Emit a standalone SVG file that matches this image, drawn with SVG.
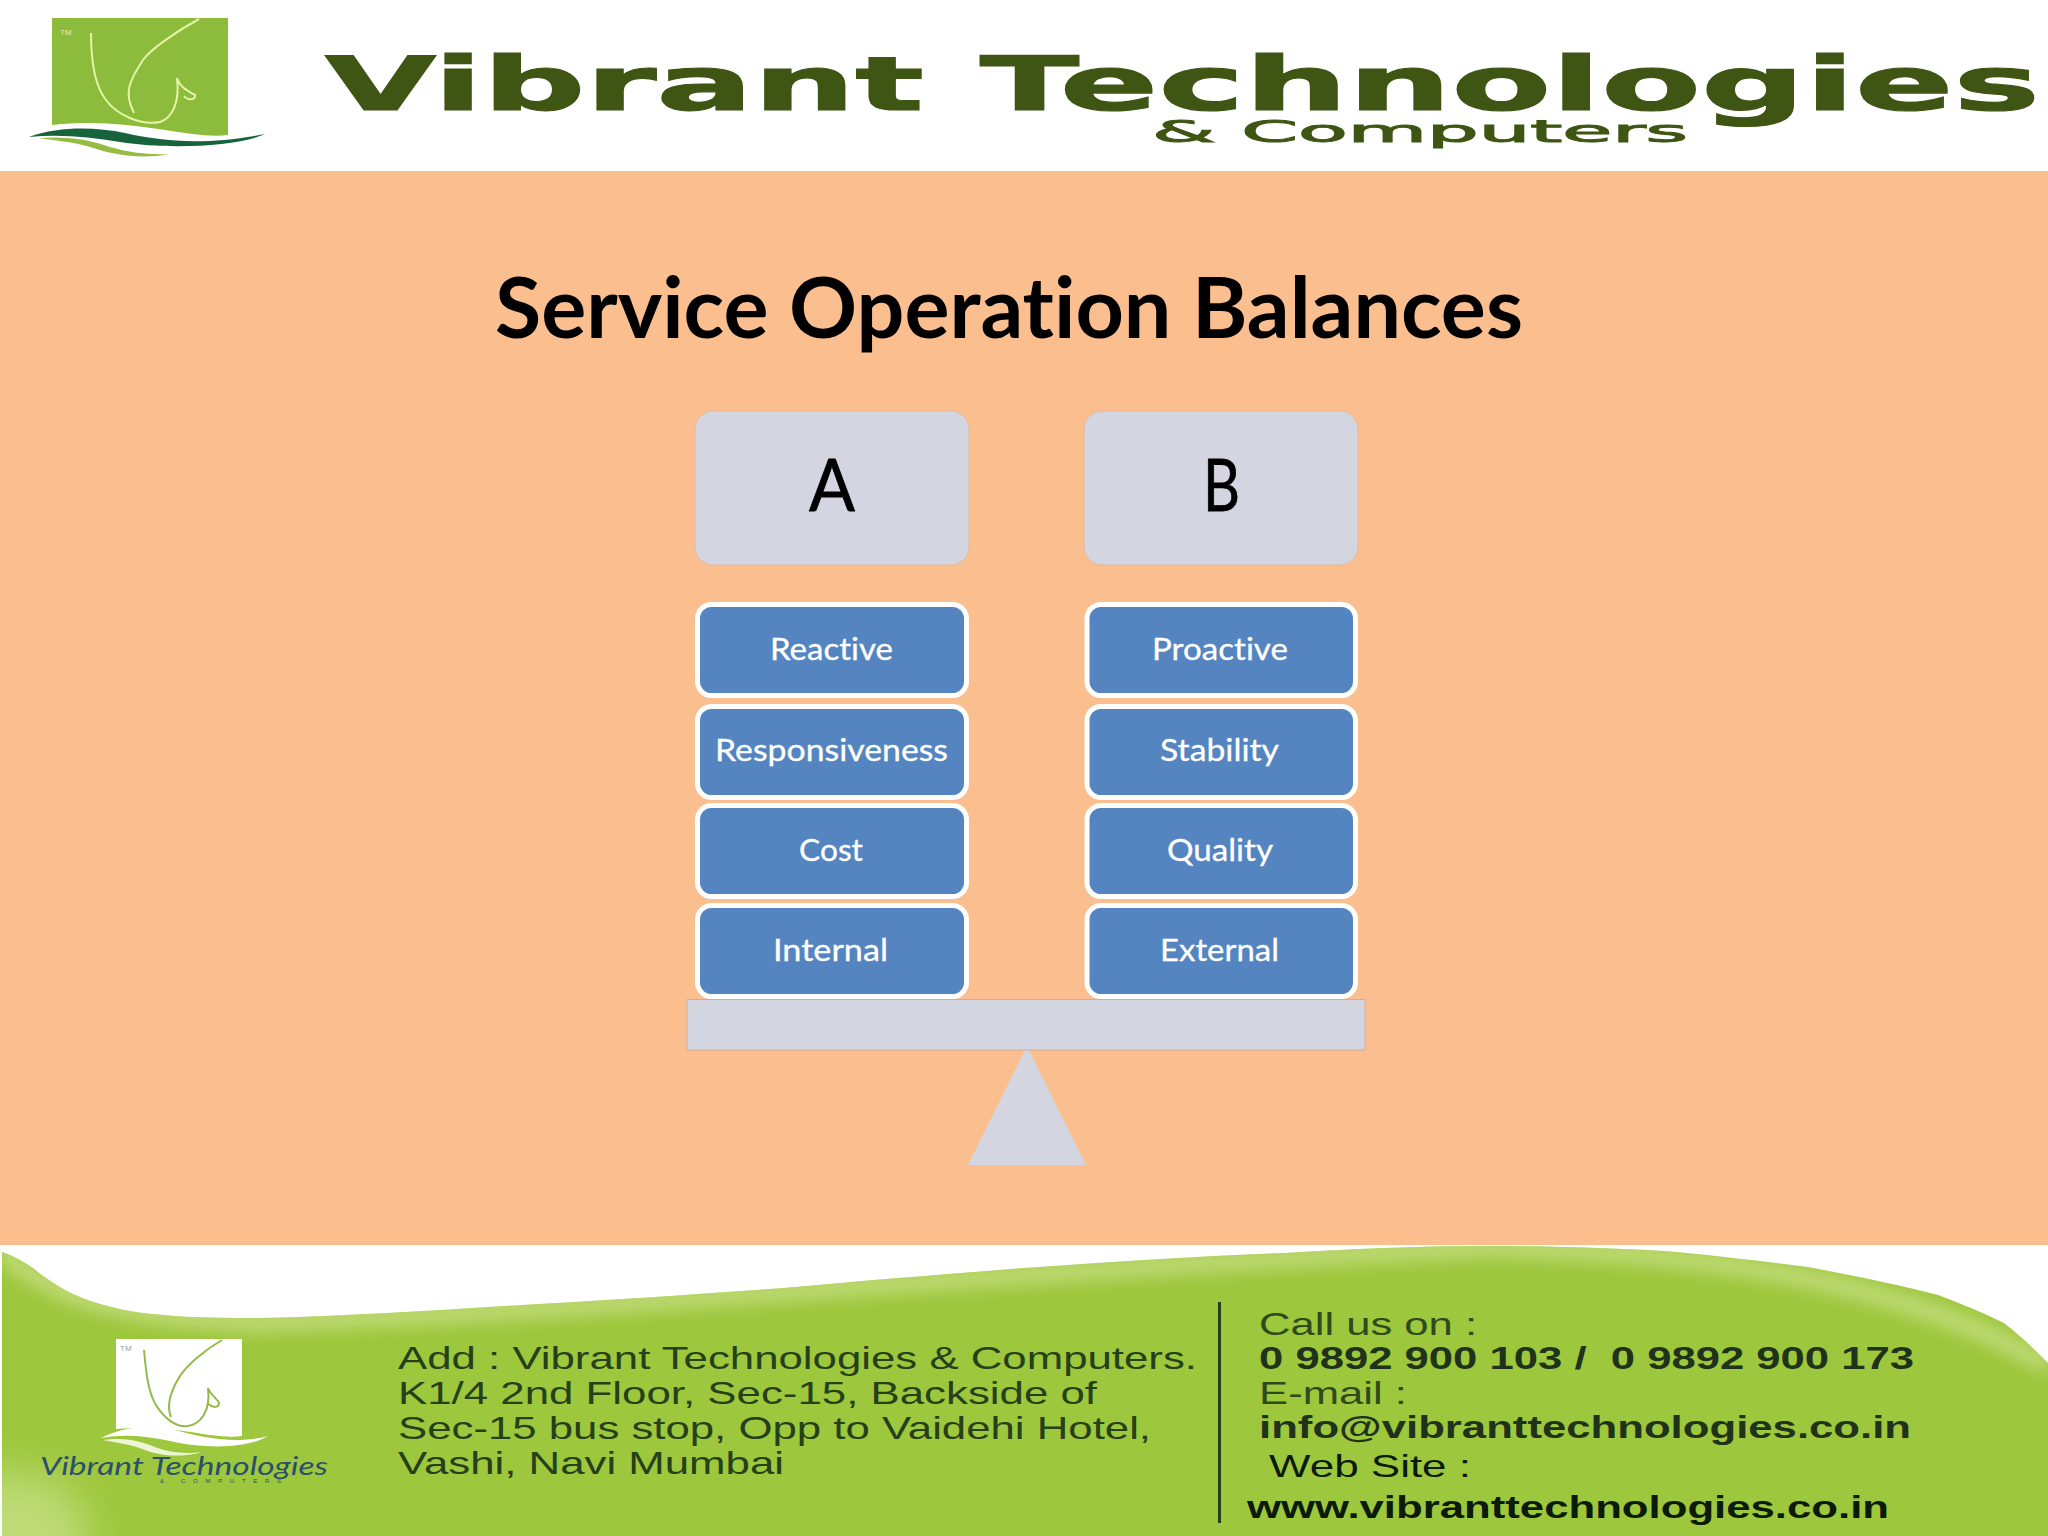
<svg xmlns="http://www.w3.org/2000/svg" width="2048" height="1536" viewBox="0 0 2048 1536">
<style>
text{font-variant-ligatures:none}
.hd{font-family:"DejaVu Sans",sans-serif;font-weight:700;fill:#3f5513;stroke:#3f5513;stroke-width:1.2}
.hs{font-family:"DejaVu Sans",sans-serif;font-weight:400;fill:#3f5513;stroke:#3f5513;stroke-width:1}
.ttl{font-family:Lato,sans-serif;font-weight:700;font-size:85px;fill:#000}
.big{font-family:Lato,sans-serif;font-size:72px;fill:#000;stroke:#000;stroke-width:.8}
.lbl{font-family:Lato,sans-serif;font-size:31px;fill:#fff;stroke:#fff;stroke-width:.3}
.head{fill:#d3d6e1;stroke:#e5b79a;stroke-width:1}
.blue{fill:#5585c0;stroke:#fff;stroke-width:5}
.addr{font-family:"Liberation Sans",sans-serif;font-size:32px;fill:#26401a}
.call{font-family:"Liberation Sans",sans-serif;font-size:32px;fill:#2f4a1c}
.bold{font-family:"Liberation Sans",sans-serif;font-weight:700;font-size:32px;fill:#20331a}
.blk{font-family:"Liberation Sans",sans-serif;font-size:32px;fill:#0c1a08}
.wbold{font-family:"Liberation Sans",sans-serif;font-weight:700;font-size:32px;fill:#0c1a08}
</style>
<defs>
<filter id="soft" x="-10%" y="-50%" width="120%" height="200%"><feGaussianBlur stdDeviation="9"/></filter>
<filter id="soft2" x="-50%" y="-50%" width="200%" height="200%"><feGaussianBlur stdDeviation="22"/></filter>
<clipPath id="fc"><path d="M2 1252 C14 1256 24 1262 33 1268 C50 1282 66 1292 85 1299 C110 1308 135 1313 163 1315 C195 1318 230 1318 261 1318 C350 1316 440 1310 522 1305 C610 1300 700 1294 784 1288 C870 1280 950 1274 1024 1268 C1110 1262 1200 1256 1285 1253 C1350 1249 1420 1246 1481 1246 C1550 1246 1620 1248 1677 1252 C1725 1257 1770 1262 1808 1267 C1855 1276 1900 1285 1938 1295 C1965 1305 1988 1315 2004 1323 C2020 1335 2035 1350 2048 1363 V1536 H2 Z"/></clipPath>
</defs>
<rect id="page" width="2048" height="1536" fill="#fff"/>
<rect id="panel" y="171" width="2048" height="1074" fill="#fbbe8f"/>

<g id="header">
<path d="M52 18 H228 V135 C190 140 130 116 52 125 Z" fill="#8dbb3c"/>
<text x="60" y="35" font-family="Liberation Sans,sans-serif" font-size="8" fill="#e4f0b8">TM</text>
<path d="M91 33 C91 60 94 85 106 100 C116 114 140 126 160 122 C172 118 180 103 177 78 C180 88 190 92 195 95 C196 100 188 101 184 96" fill="none" stroke="#e6f4a6" stroke-width="2"/>
<path d="M199 19 C175 32 150 50 143 60 C130 80 123 92 134 113" fill="none" stroke="#e6f4a6" stroke-width="2"/>
<path d="M29 137 C60 126 95 127 125 133 C160 141 205 146 265 134 C240 146 170 150 120 142 C90 137 60 134 29 137 Z" fill="#17633b"/>
<path d="M39 138 C70 136 90 140 110 147 C130 153 150 155 170 154 C140 160 110 154 90 147 C70 141 55 141 39 138 Z" fill="#96bc45"/>
<text class="hd" x="325" y="110" font-size="75" textLength="599" lengthAdjust="spacingAndGlyphs">Vibrant</text>
<text class="hd" x="980" y="110" font-size="75" textLength="1060" lengthAdjust="spacingAndGlyphs">Technologies</text>
<text class="hs" x="1152" y="142" font-size="30" textLength="536" lengthAdjust="spacingAndGlyphs">&amp; Computers</text>
</g>

<text id="title" class="ttl" x="495" y="338" textLength="1028" lengthAdjust="spacingAndGlyphs">Service Operation Balances</text>

<g id="node-a"><rect class="head" x="695" y="411" width="274" height="154" rx="18"/><text class="big" x="809" y="511" textLength="46" lengthAdjust="spacingAndGlyphs">A</text></g>
<g id="node-b"><rect class="head" x="1084" y="411" width="274" height="154" rx="18"/><text class="big" x="1203" y="511" textLength="37" lengthAdjust="spacingAndGlyphs">B</text></g>

<g id="node-reactive"><rect class="blue" x="697.500" y="604.500" width="269" height="91" rx="14"/><text class="lbl" x="770" y="660" textLength="123" lengthAdjust="spacingAndGlyphs">Reactive</text></g>
<g id="node-responsiveness"><rect class="blue" x="697.500" y="706.500" width="269" height="91" rx="14"/><text class="lbl" x="715" y="761" textLength="233" lengthAdjust="spacingAndGlyphs">Responsiveness</text></g>
<g id="node-cost"><rect class="blue" x="697.500" y="805.500" width="269" height="91" rx="14"/><text class="lbl" x="799" y="861" textLength="64" lengthAdjust="spacingAndGlyphs">Cost</text></g>
<g id="node-internal"><rect class="blue" x="697.500" y="905.500" width="269" height="91" rx="14"/><text class="lbl" x="773" y="961" textLength="115" lengthAdjust="spacingAndGlyphs">Internal</text></g>

<g id="node-proactive"><rect class="blue" x="1087" y="604.500" width="268.500" height="91" rx="14"/><text class="lbl" x="1152" y="660" textLength="136" lengthAdjust="spacingAndGlyphs">Proactive</text></g>
<g id="node-stability"><rect class="blue" x="1087" y="706.500" width="268.500" height="91" rx="14"/><text class="lbl" x="1160" y="761" textLength="119" lengthAdjust="spacingAndGlyphs">Stability</text></g>
<g id="node-quality"><rect class="blue" x="1087" y="805.500" width="268.500" height="91" rx="14"/><text class="lbl" x="1167" y="861" textLength="106" lengthAdjust="spacingAndGlyphs">Quality</text></g>
<g id="node-external"><rect class="blue" x="1087" y="905.500" width="268.500" height="91" rx="14"/><text class="lbl" x="1160" y="961" textLength="119" lengthAdjust="spacingAndGlyphs">External</text></g>

<g id="connectors"></g>

<g id="scale">
<path d="M1027 1046 L1086 1165 H968 Z" fill="#d3d6e1"/>
<rect x="687" y="999.500" width="678" height="50.500" fill="#d3d6e1" stroke="#d0ae9c" stroke-width="1"/>
</g>

<g id="footer">
<g clip-path="url(#fc)">
<rect x="0" y="1240" width="2048" height="296" fill="#9dc73c"/>
<path d="M0 1250 C40 1285 90 1318 261 1322 C600 1312 1000 1270 1481 1248 C1700 1250 1900 1280 2048 1365" fill="none" stroke="#d8e8a0" stroke-width="14" opacity=".8" filter="url(#soft)"/>
<path d="M2 1250 V1536" fill="none" stroke="#e3efbb" stroke-width="22" opacity=".8" filter="url(#soft)"/>
<ellipse cx="10" cy="1536" rx="80" ry="65" fill="#d6e8a0" opacity=".6" filter="url(#soft2)"/>
</g>
<path d="M116 1339 H242 V1436 C210 1440 180 1424 116 1429 Z" fill="#fff"/>
<text x="120" y="1351" font-family="Liberation Sans,sans-serif" font-size="8" fill="#9aa890">TM</text>
<path d="M144 1350 C146 1372 148 1392 156 1405 C164 1418 176 1428 188 1426 C200 1424 211 1412 208 1388 C211 1396 218 1399 219 1403 C219 1408 212 1408 209 1404" fill="none" stroke="#93b94a" stroke-width="2"/>
<path d="M222 1340 C205 1350 188 1364 180 1376 C170 1392 166 1405 171 1417" fill="none" stroke="#93b94a" stroke-width="2"/>
<path d="M101 1438 C125 1426 150 1424 175 1430 C200 1437 235 1445 268 1436 C245 1450 200 1448 170 1441 C145 1436 125 1434 101 1438 Z" fill="#fff"/>
<path d="M103 1440 C125 1437 140 1441 155 1447 C170 1453 185 1454 202 1452 C182 1458 160 1456 145 1450 C130 1444 118 1443 103 1440 Z" fill="#eef5d6"/>
<text x="40" y="1475" font-family="Lato,sans-serif" font-style="italic" font-size="25" fill="#2c4f6c" textLength="288" lengthAdjust="spacingAndGlyphs">Vibrant Technologies</text>
<text x="160" y="1483" font-family="Liberation Sans,sans-serif" font-size="6" fill="#2c4f6c" textLength="121" lengthAdjust="spacing">&amp; COMPUTERS</text>
<text class="addr" x="398" y="1369" textLength="799" lengthAdjust="spacingAndGlyphs">Add : Vibrant Technologies &amp; Computers.</text>
<text class="addr" x="398" y="1404" textLength="699" lengthAdjust="spacingAndGlyphs">K1/4 2nd Floor, Sec-15, Backside of</text>
<text class="addr" x="398" y="1439" textLength="753" lengthAdjust="spacingAndGlyphs">Sec-15 bus stop, Opp to Vaidehi Hotel,</text>
<text class="addr" x="398" y="1474" textLength="386" lengthAdjust="spacingAndGlyphs">Vashi, Navi Mumbai</text>
<rect x="1218" y="1302" width="3" height="221" fill="#24401a"/>
<text class="call" x="1259" y="1335" textLength="218" lengthAdjust="spacingAndGlyphs">Call us on :</text>
<text class="bold" x="1259" y="1369" textLength="655" lengthAdjust="spacingAndGlyphs" xml:space="preserve">0 9892 900 103 /  0 9892 900 173</text>
<text class="call" x="1259" y="1404" textLength="148" lengthAdjust="spacingAndGlyphs">E-mail :</text>
<text class="bold" x="1259" y="1438" textLength="652" lengthAdjust="spacingAndGlyphs">info@vibranttechnologies.co.in</text>
<text class="blk" x="1269" y="1477" textLength="202" lengthAdjust="spacingAndGlyphs">Web Site :</text>
<text class="wbold" x="1247" y="1518" textLength="642" lengthAdjust="spacingAndGlyphs">www.vibranttechnologies.co.in</text>
</g>
</svg>
